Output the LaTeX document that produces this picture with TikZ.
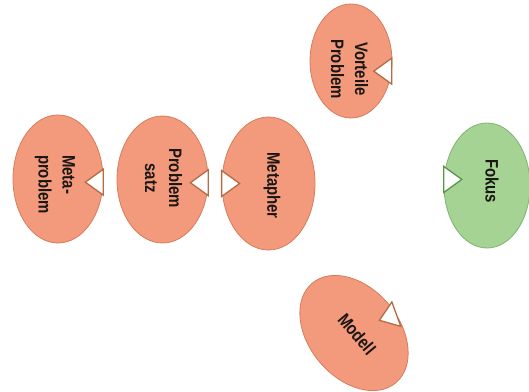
\documentclass[tikz,border=0pt]{standalone}
\usepackage{fontspec}
\setmainfont{Liberation Sans}[FakeStretch=0.83]
\usetikzlibrary{shapes.geometric}

\definecolor{bubfill}{RGB}{242,154,123}
\definecolor{bubline}{RGB}{214,124,92}
\definecolor{bubnotch}{RGB}{180,108,68}
\definecolor{grnfill}{RGB}{165,211,148}
\definecolor{grnline}{RGB}{128,178,112}
\definecolor{grnnotch}{RGB}{92,148,74}
\definecolor{txt}{RGB}{26,22,20}

\tikzset{
  bubble/.style={ellipse, draw=bubline, fill=bubfill, line width=0.8pt, inner sep=0pt},
  greenbubble/.style={bubble, draw=grnline, fill=grnfill},
  lbl/.style={font=\bfseries\fontsize{18}{24}\selectfont, text=txt, inner sep=0pt, align=center},
  notch/.style={draw=bubnotch, fill=white, line width=1.3pt, line join=miter},
  greennotch/.style={notch, draw=grnnotch},
}

% white triangular marker sitting on a bubble's rim: #2 = rim point, #3 = turn
\newcommand\rimnotch[3][notch]{%
  \begin{scope}[shift={(#2)}, rotate=#3]
    \draw[#1] (-13,0) -- (0,-18) -- (13,0) -- cycle;
  \end{scope}}

\begin{document}
\begin{tikzpicture}[x=1pt, y=1pt]
\useasboundingbox (0,0) rectangle (529,-391);

% bubbles
\node[bubble, rotate=-90, minimum width=114, minimum height=82] (vp) at (351,-61) {};
\node[bubble, rotate=-90, minimum width=128, minimum height=90] (mp) at (58,-179) {};
\node[bubble, rotate=-90, minimum width=127, minimum height=91] (ps) at (162.5,-179.5) {};
\node[bubble, rotate=-90, minimum width=133, minimum height=93] (mt) at (268.5,-183.5) {};
\node[greenbubble, rotate=-90, minimum width=125, minimum height=86] (fk) at (487,-185.5) {};
\node[bubble, rotate=-50, minimum width=130, minimum height=90] (md) at (354,-333) {};

% labels
\node[lbl, rotate=-90] (vpt) at (349.5,-69) {Vorteile\\Problem};
\node[lbl, rotate=-90, align=left] (mpt) at (55,-184.5) {Meta-\\problem};
\node[lbl, rotate=-90] (pst) at (163.5,-178) {Problem\\satz};
\node[lbl, rotate=-90] (mtt) at (272,-185.5) {Metapher};
\node[lbl, rotate=-90] (fkt) at (492,-181) {Fokus};
\node[lbl, rotate=-50] (mdt) at (357,-334) {Modell};

% rim markers
\rimnotch{vp.76}{-90}
\rimnotch{mp.86}{-90}
\rimnotch{ps.86}{-90}
\rimnotch{mt.270}{90}
\rimnotch[greennotch]{fk.262}{90}
\rimnotch{md.74}{-70}
\end{tikzpicture}
\end{document}
